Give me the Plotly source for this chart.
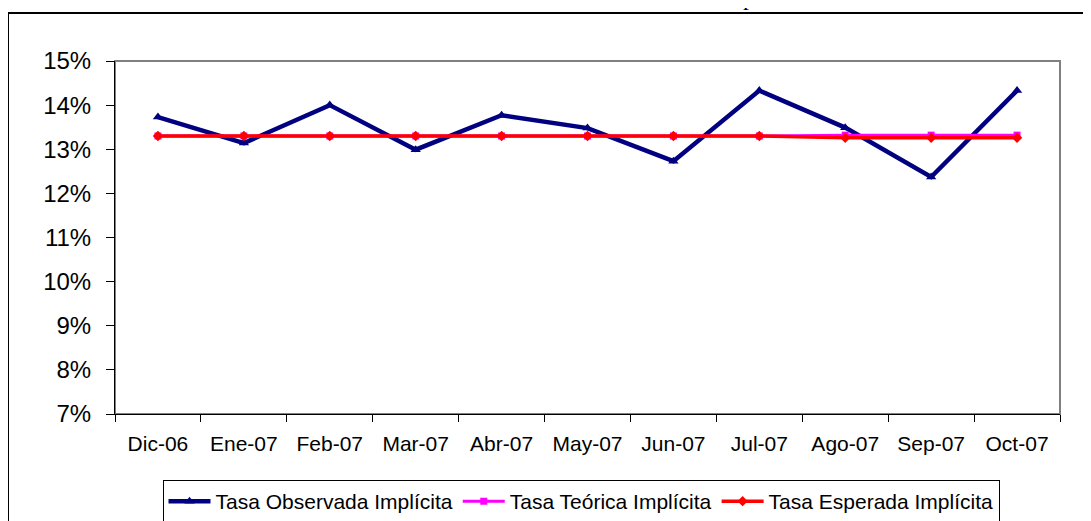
import plotly.graph_objects as go

categories = ["Dic-06", "Ene-07", "Feb-07", "Mar-07", "Abr-07", "May-07",
              "Jun-07", "Jul-07", "Ago-07", "Sep-07", "Oct-07"]
observada = [0.1373, 0.1314, 0.1400, 0.1299, 0.1377, 0.1348,
             0.1273, 0.1433, 0.1349, 0.1237, 0.1433]
teorica = [0.1330, 0.1330, 0.1330, 0.1330, 0.1330, 0.1330,
           0.1330, 0.1330, 0.1332, 0.1332, 0.1332]
esperada = [0.1330, 0.1330, 0.1330, 0.1330, 0.1330, 0.1330,
            0.1330, 0.1330, 0.1326, 0.1326, 0.1326]
y_ticks = [0.07, 0.08, 0.09, 0.10, 0.11, 0.12, 0.13, 0.14, 0.15]

FONT = "Liberation Sans, Arial, sans-serif"

# page body has an 8px margin, so the figure is 8px smaller and offset
W, H = 1083, 513
L, T, R, B = 107, 53, 31, 107
PW, PH = W - L - R, H - T - B

fig = go.Figure()
fig.add_trace(go.Scatter(
    x=categories, y=observada, name="Tasa Observada Implícita",
    mode="lines+markers",
    line=dict(color="#000080", width=4.5),
    marker=dict(symbol="triangle-up", size=9, color="#000080"),
))
fig.add_trace(go.Scatter(
    x=categories, y=teorica, name="Tasa Teórica Implícita",
    mode="lines+markers",
    line=dict(color="#FF00FF", width=3),
    marker=dict(symbol="square", size=7, color="#FF00FF"),
))
fig.add_trace(go.Scatter(
    x=categories, y=esperada, name="Tasa Esperada Implícita",
    mode="lines+markers",
    line=dict(color="#FF0000", width=3.5),
    marker=dict(symbol="diamond", size=8, color="#FF0000"),
))

fig.update_layout(
    width=W, height=H,
    margin=dict(l=L, r=R, t=T, b=B, autoexpand=False),
    paper_bgcolor="white", plot_bgcolor="white",
    font=dict(family=FONT, size=21, color="black"),
    showlegend=True,
    legend=dict(
        orientation="h", x=(573 - L) / PW, xanchor="center",
        y=-(472 - 406) / PH, yanchor="top",
        bordercolor="black", borderwidth=1, bgcolor="white",
        font=dict(family=FONT, size=21, color="black"),
        itemwidth=42, tracegroupgap=0,
    ),
    xaxis=dict(
        type="category", range=[-0.5, 10.5],
        showline=True, linecolor="black", linewidth=1,
        ticks="outside", tickson="boundaries", ticklen=7, tickcolor="black",
        showgrid=False, zeroline=False,
        tickfont=dict(family=FONT, size=21),
        ticklabelstandoff=11,
    ),
    yaxis=dict(
        range=[0.07, 0.15], tickvals=y_ticks, tickformat=".0%",
        showline=True, linecolor="black", linewidth=1,
        ticks="outside", ticklen=8, tickcolor="black",
        showgrid=False, zeroline=False,
        tickfont=dict(family=FONT, size=24),
        ticklabelstandoff=10,
    ),
    shapes=[
        dict(type="rect", xref="paper", yref="paper", x0=0, x1=1, y0=0, y1=1,
             line=dict(color="#808080", width=2), layer="below"),
        dict(type="line", xref="paper", yref="paper",
             x0=-L / PW, x1=1.2, y0=1 + (T - 5) / PH, y1=1 + (T - 5) / PH,
             line=dict(color="black", width=2)),
        dict(type="line", xref="paper", yref="paper",
             x0=-L / PW, x1=-L / PW, y0=1 + (T - 5) / PH, y1=-0.5,
             line=dict(color="black", width=2)),
    ],
    annotations=[
        dict(text="p", xref="paper", yref="paper",
             x=(741 - L) / PW, y=1 + (T - 4) / PH,
             xanchor="center", yanchor="bottom", showarrow=False,
             font=dict(family="Liberation Serif, Times New Roman, serif", size=24, color="black")),
    ],
)

fig.write_html("out.html")
